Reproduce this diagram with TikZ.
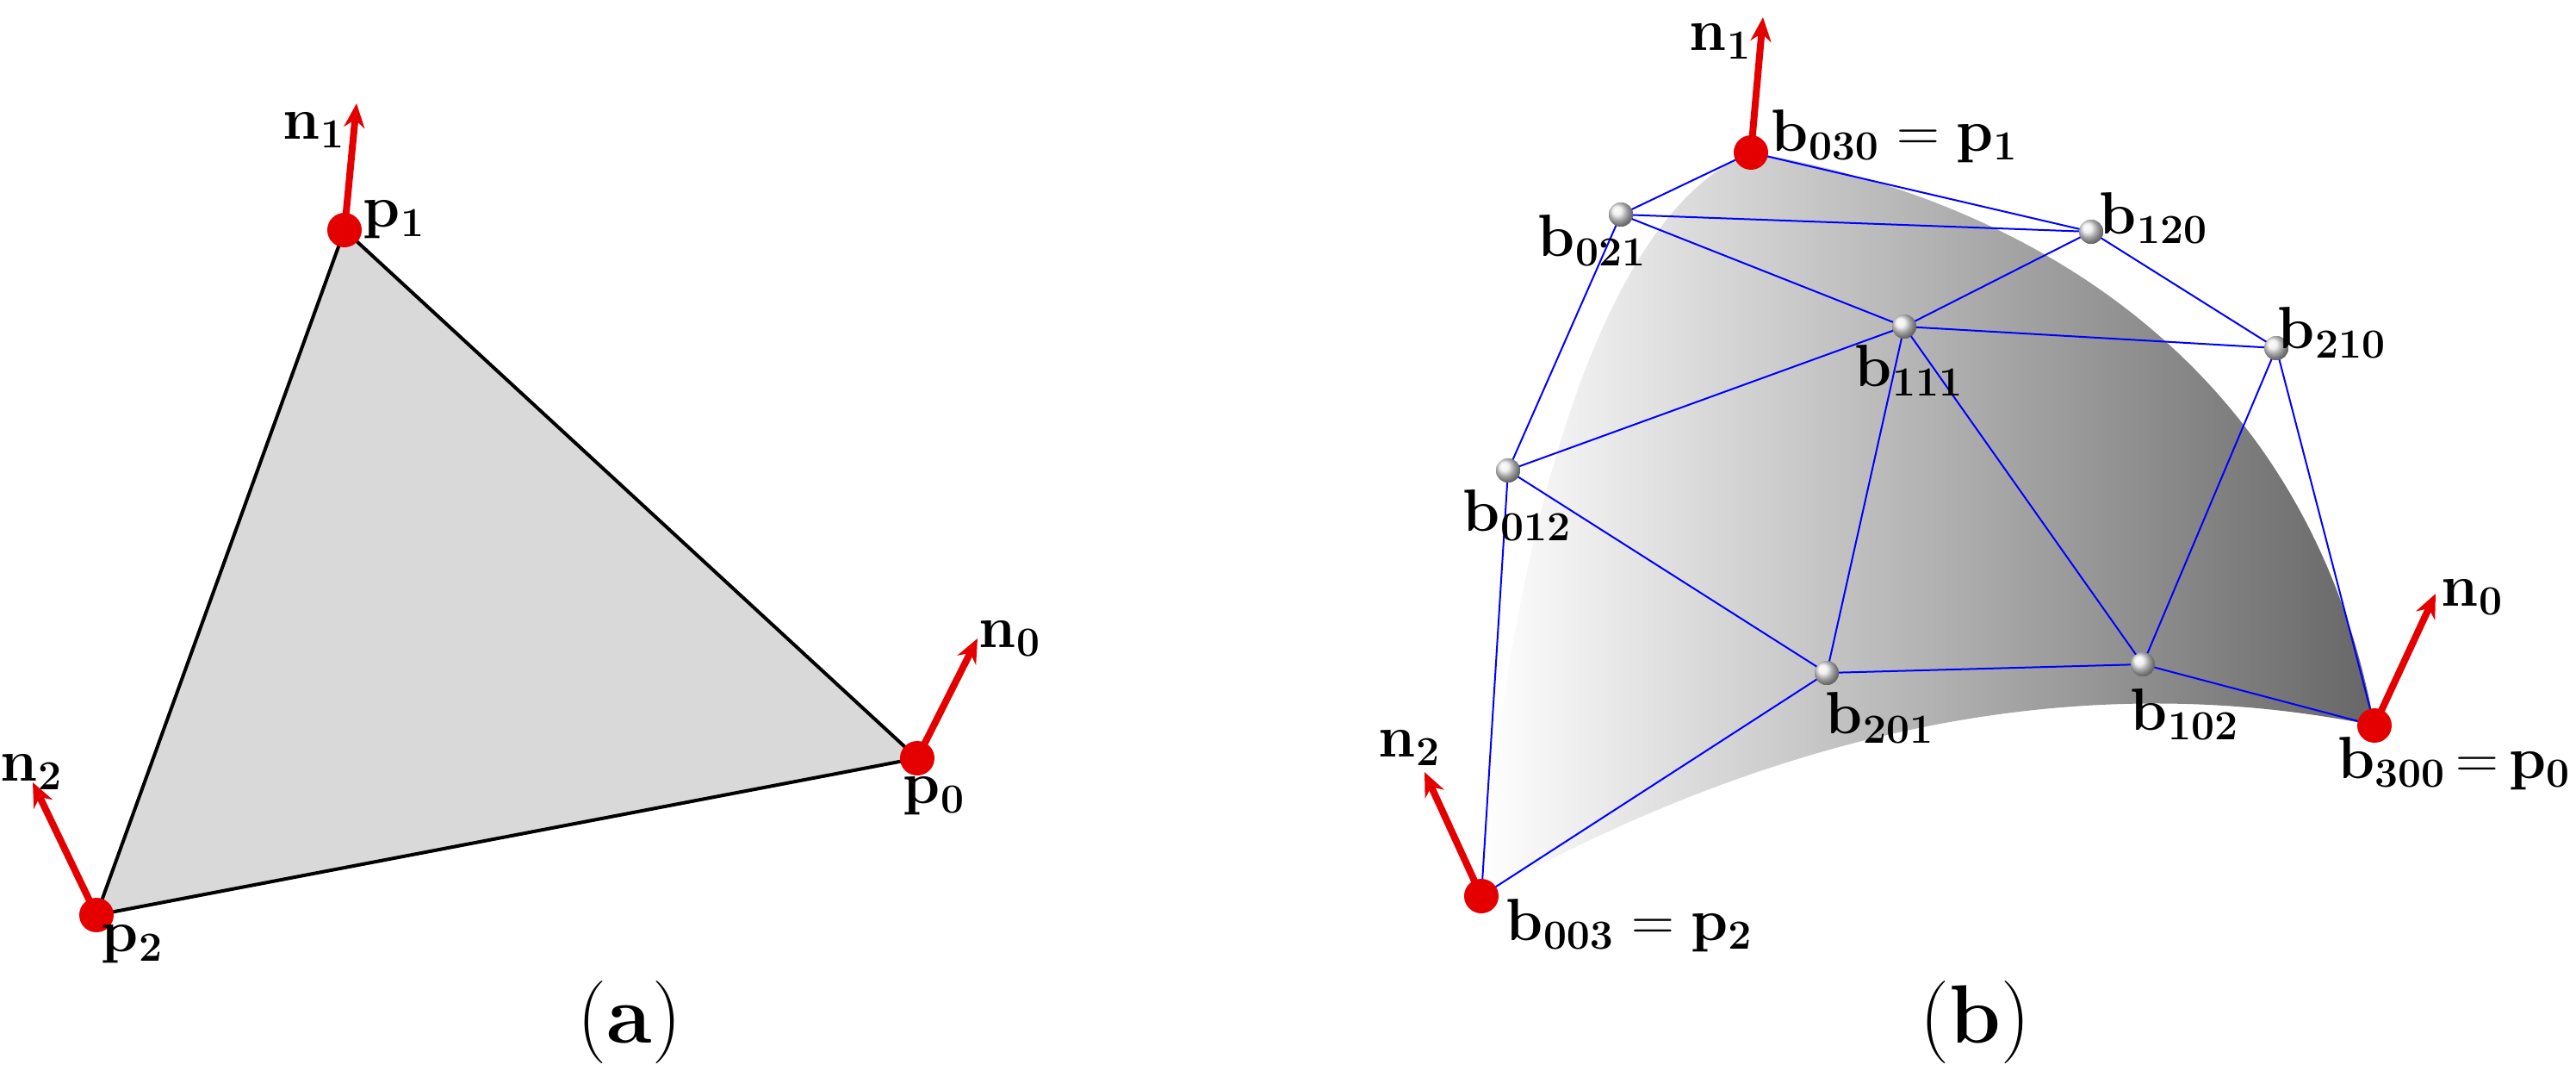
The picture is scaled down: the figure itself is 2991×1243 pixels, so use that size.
\documentclass[tikz,border=0pt]{standalone}
\usetikzlibrary{arrows.meta}
\begin{document}
\begin{tikzpicture}[x=0.25pt,y=-0.25pt,
  lbl/.style={font=\fontsize{17}{20}\selectfont, inner sep=0pt},
  rdot/.style={circle,fill=red!90!black,inner sep=0pt,minimum size=10pt},
  ball/.style={circle,ball color=white!85!gray,inner sep=0pt,minimum size=7pt},
  nrm/.style={red!90!black,line width=2pt,-{Stealth[length=7pt,width=6pt]}},
  mesh/.style={blue,line width=0.5pt},
  captxt/.style={font=\fontsize{24}{28}\selectfont}]
\useasboundingbox (0,0) rectangle (2991,1243);
% (a)
\coordinate (A1) at (400,267); \coordinate (A0) at (1065,880); \coordinate (A2) at (112,1062);
\fill[gray!30] (A1)--(A0)--(A2)--cycle;
\draw[line width=1pt] (A1)--(A0)--(A2)--cycle;
\coordinate (An1) at (414,120); \coordinate (An0) at (1135,741); \coordinate (An2) at (38,908);
\draw[nrm] (A1)--(An1); \draw[nrm] (A0)--(An0); \draw[nrm] (A2)--(An2);
\node[rdot] (a1) at (A1) {}; \node[rdot] (a0) at (A0) {}; \node[rdot] (a2) at (A2) {};
\node[lbl] (ln1) at (365,151) {$\mathbf{n_1}$};
\node[lbl] (lp1) at (458,255) {$\mathbf{p_1}$};
\node[lbl] (ln0) at (1173,741) {$\mathbf{n_0}$};
\node[lbl] (lp0) at (1085,924) {$\mathbf{p_0}$};
\node[lbl] (ln2) at (37,896) {$\mathbf{n_2}$};
\node[lbl] (lp2) at (154,1096) {$\mathbf{p_2}$};
\node[captxt] (capa) at (731,1187) {(\textbf{a})};
% (b) surface
\shade[left color=white, middle color=black!33, right color=black!60]
 (2033,177) .. controls (2350,230) and (2680,420) .. (2757,842)
 .. controls (2500,790) and (2150,800) .. (1720,1040)
 .. controls (1750,650) and (1850,250) .. (2033,177) -- cycle;
\node[ball] (b030) at (2033,177) {};
\node[ball] (b021) at (1882,249) {};
\node[ball] (b120) at (2428,269) {};
\node[ball] (b111) at (2211,379) {};
\node[ball] (b210) at (2643,404) {};
\node[ball] (b012) at (1751,546) {};
\node[ball] (b201) at (2121,781) {};
\node[ball] (b102) at (2488,771) {};
\node[ball] (b300) at (2757,842) {};
\node[ball] (b003) at (1720,1040) {};
\foreach \u/\v in {b030/b021,b030/b120,b021/b120,b021/b111,b120/b111,b021/b012,b012/b111,b111/b210,b120/b210,b012/b003,b012/b201,b111/b201,b111/b102,b210/b102,b210/b300,b201/b102,b102/b300,b201/b003}
  \draw[mesh] (\u.center)--(\v.center);
\foreach \n in {b021,b120,b111,b210,b012,b201,b102} \node[ball] at (\n) {};
\coordinate (Bn1) at (2047,20); \coordinate (Bn0) at (2828,689); \coordinate (Bn2) at (1654,896);
\draw[nrm] (b030.center)--(Bn1); \draw[nrm] (b300.center)--(Bn0); \draw[nrm] (b003.center)--(Bn2);
\node[rdot] at (b030) {}; \node[rdot] at (b300) {}; \node[rdot] at (b003) {};
\node[lbl] (lbn1) at (1998,48) {$\mathbf{n_1}$};
\node[lbl,anchor=west] (lb030) at (2056,158) {$\mathbf{b_{030}=p_1}$};
\node[lbl] (lb021) at (1849,279) {$\mathbf{b_{021}}$};
\node[lbl] (lb120) at (2501,253) {$\mathbf{b_{120}}$};
\node[lbl] (lb111) at (2217,430) {$\mathbf{b_{111}}$};
\node[lbl] (lb210) at (2708,386) {$\mathbf{b_{210}}$};
\node[lbl] (lb012) at (1762,598) {$\mathbf{b_{012}}$};
\node[lbl] (lb201) at (2183,833) {$\mathbf{b_{201}}$};
\node[lbl] (lb102) at (2537,829) {$\mathbf{b_{102}}$};
\node[lbl,anchor=east] (lb300) at (2986,886) {$\mathbf{b_{300}}\,{=}\,\mathbf{p_0}$};
\node[lbl] (lbn0) at (2871,693) {$\mathbf{n_0}$};
\node[lbl,anchor=west] (lb003) at (1748,1074) {$\mathbf{b_{003}=p_2}$};
\node[lbl] (lbn2) at (1637,868) {$\mathbf{n_2}$};
\node[captxt] (capb) at (2293,1187) {(\textbf{b})};
\end{tikzpicture}
\end{document}
